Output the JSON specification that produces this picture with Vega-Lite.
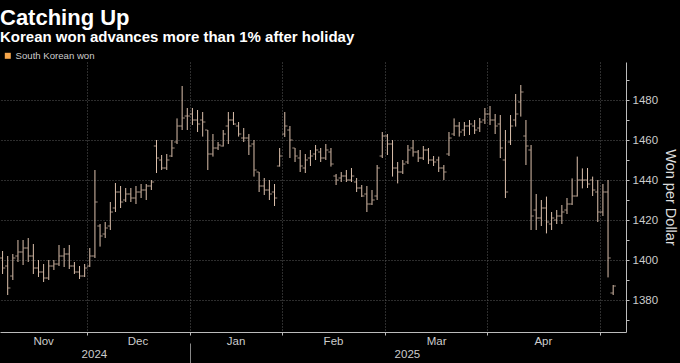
{
  "$schema": "https://vega.github.io/schema/vega-lite/v6.json",
  "autosize": {"type": "none"},
  "padding": {"left": 0, "top": 62, "right": 54, "bottom": 31},
  "width": 626,
  "height": 270,
  "background": "#000000",
  "config": {"view": {"stroke": null}, "font": "Liberation Sans"},
  "title": {
    "text": "Catching Up",
    "subtitle": "Korean won advances more than 1% after holiday",
    "anchor": "start",
    "frame": "group",
    "font": "Liberation Sans",
    "fontSize": 22,
    "fontWeight": "bold",
    "color": "#ffffff",
    "subtitleFont": "Liberation Sans",
    "subtitleFontSize": 15,
    "subtitleFontWeight": "bold",
    "subtitleColor": "#ffffff",
    "subtitlePadding": 0,
    "offset": 5
  },
  "data": {"values": [
    {"i":0,"d":"2024-11-07","o":1401,"h":1404.5,"l":1393,"c":1396},
    {"i":1,"d":"2024-11-08","o":1397,"h":1402,"l":1382.5,"c":1386},
    {"i":2,"d":"2024-11-11","o":1392,"h":1403,"l":1390,"c":1401},
    {"i":3,"d":"2024-11-12","o":1402,"h":1410,"l":1399,"c":1404},
    {"i":4,"d":"2024-11-13","o":1404,"h":1410,"l":1397.5,"c":1406},
    {"i":5,"d":"2024-11-14","o":1406,"h":1411,"l":1399,"c":1402},
    {"i":6,"d":"2024-11-15","o":1402,"h":1408,"l":1393,"c":1396},
    {"i":7,"d":"2024-11-18","o":1396,"h":1400,"l":1391.5,"c":1394},
    {"i":8,"d":"2024-11-19","o":1394,"h":1398,"l":1389,"c":1391},
    {"i":9,"d":"2024-11-20","o":1391,"h":1400,"l":1390,"c":1397},
    {"i":10,"d":"2024-11-21","o":1397,"h":1400,"l":1395,"c":1398},
    {"i":11,"d":"2024-11-22","o":1398,"h":1407.5,"l":1397,"c":1402},
    {"i":12,"d":"2024-11-25","o":1402,"h":1406,"l":1396.5,"c":1403},
    {"i":13,"d":"2024-11-26","o":1403,"h":1407.5,"l":1395.5,"c":1397},
    {"i":14,"d":"2024-11-27","o":1397,"h":1399,"l":1393,"c":1394},
    {"i":15,"d":"2024-11-28","o":1394,"h":1397,"l":1390.5,"c":1392},
    {"i":16,"d":"2024-11-29","o":1392,"h":1398,"l":1391.5,"c":1396},
    {"i":17,"d":"2024-12-02","o":1397,"h":1406,"l":1396.5,"c":1402},
    {"i":18,"d":"2024-12-03","o":1402,"h":1445,"l":1401,"c":1429},
    {"i":19,"d":"2024-12-04","o":1417,"h":1418,"l":1406.7,"c":1412},
    {"i":20,"d":"2024-12-05","o":1413,"h":1419,"l":1411,"c":1416},
    {"i":21,"d":"2024-12-06","o":1417,"h":1429,"l":1415,"c":1424},
    {"i":22,"d":"2024-12-09","o":1426,"h":1438.5,"l":1424,"c":1434},
    {"i":23,"d":"2024-12-10","o":1434,"h":1437,"l":1426,"c":1429},
    {"i":24,"d":"2024-12-11","o":1430,"h":1436,"l":1429,"c":1433},
    {"i":25,"d":"2024-12-12","o":1433,"h":1436,"l":1429,"c":1431},
    {"i":26,"d":"2024-12-13","o":1431,"h":1437,"l":1428,"c":1434},
    {"i":27,"d":"2024-12-16","o":1434,"h":1438,"l":1431,"c":1435},
    {"i":28,"d":"2024-12-17","o":1435,"h":1438,"l":1430,"c":1437},
    {"i":29,"d":"2024-12-18","o":1437,"h":1440,"l":1435,"c":1439},
    {"i":30,"d":"2024-12-19","o":1457,"h":1460,"l":1443.5,"c":1451},
    {"i":31,"d":"2024-12-20","o":1450,"h":1452.5,"l":1445,"c":1446},
    {"i":32,"d":"2024-12-23","o":1446,"h":1453,"l":1445,"c":1450},
    {"i":33,"d":"2024-12-24","o":1452,"h":1460,"l":1451.5,"c":1456},
    {"i":34,"d":"2024-12-26","o":1459,"h":1470.8,"l":1458,"c":1467},
    {"i":35,"d":"2024-12-27","o":1467,"h":1487,"l":1465,"c":1471},
    {"i":36,"d":"2024-12-30","o":1472,"h":1476,"l":1465,"c":1472},
    {"i":37,"d":"2025-01-02","o":1473,"h":1476,"l":1467.5,"c":1470},
    {"i":38,"d":"2025-01-03","o":1470,"h":1475,"l":1464,"c":1468},
    {"i":39,"d":"2025-01-06","o":1470,"h":1474,"l":1461.7,"c":1469},
    {"i":40,"d":"2025-01-07","o":1465,"h":1465,"l":1445,"c":1453},
    {"i":41,"d":"2025-01-08","o":1453,"h":1463,"l":1451.7,"c":1456},
    {"i":42,"d":"2025-01-09","o":1456,"h":1459,"l":1455,"c":1457.5},
    {"i":43,"d":"2025-01-10","o":1457,"h":1465,"l":1456.7,"c":1463},
    {"i":44,"d":"2025-01-13","o":1467,"h":1474,"l":1458,"c":1470},
    {"i":45,"d":"2025-01-14","o":1470,"h":1474,"l":1467.5,"c":1468},
    {"i":46,"d":"2025-01-15","o":1467,"h":1469,"l":1461.7,"c":1463},
    {"i":47,"d":"2025-01-16","o":1461,"h":1466,"l":1459,"c":1461},
    {"i":48,"d":"2025-01-17","o":1461,"h":1463,"l":1452.5,"c":1457},
    {"i":49,"d":"2025-01-20","o":1458,"h":1460,"l":1441.7,"c":1445},
    {"i":50,"d":"2025-01-21","o":1444,"h":1444,"l":1434,"c":1437},
    {"i":51,"d":"2025-01-22","o":1437,"h":1441,"l":1432.5,"c":1435},
    {"i":52,"d":"2025-01-23","o":1435,"h":1440,"l":1430,"c":1433},
    {"i":53,"d":"2025-01-24","o":1434,"h":1438,"l":1427,"c":1431},
    {"i":54,"d":"2025-01-31","o":1447,"h":1456,"l":1446.7,"c":1452},
    {"i":55,"d":"2025-02-03","o":1463,"h":1474,"l":1461.5,"c":1467},
    {"i":56,"d":"2025-02-04","o":1465,"h":1467,"l":1451,"c":1460},
    {"i":57,"d":"2025-02-05","o":1456,"h":1456,"l":1449,"c":1452},
    {"i":58,"d":"2025-02-06","o":1451,"h":1455,"l":1444,"c":1447},
    {"i":59,"d":"2025-02-07","o":1446,"h":1453,"l":1443.5,"c":1450},
    {"i":60,"d":"2025-02-10","o":1451,"h":1455,"l":1447,"c":1452},
    {"i":61,"d":"2025-02-11","o":1453,"h":1457.5,"l":1450,"c":1455},
    {"i":62,"d":"2025-02-12","o":1454,"h":1456,"l":1449,"c":1451},
    {"i":63,"d":"2025-02-13","o":1451,"h":1458,"l":1450,"c":1455},
    {"i":64,"d":"2025-02-14","o":1454,"h":1456,"l":1446.7,"c":1448},
    {"i":65,"d":"2025-02-17","o":1442,"h":1443,"l":1437.5,"c":1440},
    {"i":66,"d":"2025-02-18","o":1441,"h":1444,"l":1439,"c":1442},
    {"i":67,"d":"2025-02-19","o":1442,"h":1445,"l":1439,"c":1440},
    {"i":68,"d":"2025-02-20","o":1440,"h":1446,"l":1439,"c":1442},
    {"i":69,"d":"2025-02-21","o":1439,"h":1441,"l":1434,"c":1436},
    {"i":70,"d":"2025-02-24","o":1436,"h":1437.5,"l":1431.5,"c":1432},
    {"i":71,"d":"2025-02-25","o":1433,"h":1437,"l":1424,"c":1428},
    {"i":72,"d":"2025-02-26","o":1428,"h":1435,"l":1427.5,"c":1430},
    {"i":73,"d":"2025-02-27","o":1432,"h":1447.5,"l":1430,"c":1446},
    {"i":74,"d":"2025-02-28","o":1452,"h":1464,"l":1451,"c":1462},
    {"i":75,"d":"2025-03-04","o":1462,"h":1463,"l":1452.5,"c":1458},
    {"i":76,"d":"2025-03-05","o":1458,"h":1460,"l":1441.7,"c":1446},
    {"i":77,"d":"2025-03-06","o":1446,"h":1449,"l":1438.3,"c":1444},
    {"i":78,"d":"2025-03-07","o":1444,"h":1450,"l":1443,"c":1448},
    {"i":79,"d":"2025-03-10","o":1449,"h":1457.5,"l":1448,"c":1455},
    {"i":80,"d":"2025-03-11","o":1456,"h":1460,"l":1451.7,"c":1454},
    {"i":81,"d":"2025-03-12","o":1454,"h":1455,"l":1449,"c":1451},
    {"i":82,"d":"2025-03-13","o":1451,"h":1457,"l":1450,"c":1455},
    {"i":83,"d":"2025-03-14","o":1455,"h":1456,"l":1448,"c":1450},
    {"i":84,"d":"2025-03-17","o":1450,"h":1452,"l":1447,"c":1449},
    {"i":85,"d":"2025-03-18","o":1450,"h":1451.7,"l":1444,"c":1446},
    {"i":86,"d":"2025-03-19","o":1446,"h":1447.5,"l":1440,"c":1444},
    {"i":87,"d":"2025-03-20","o":1453,"h":1464,"l":1452,"c":1461},
    {"i":88,"d":"2025-03-21","o":1463,"h":1470.8,"l":1462,"c":1467},
    {"i":89,"d":"2025-03-24","o":1467,"h":1469,"l":1461.7,"c":1464},
    {"i":90,"d":"2025-03-25","o":1465,"h":1469,"l":1462,"c":1467},
    {"i":91,"d":"2025-03-26","o":1467,"h":1470,"l":1462.5,"c":1468},
    {"i":92,"d":"2025-03-27","o":1467,"h":1470,"l":1463,"c":1465},
    {"i":93,"d":"2025-03-28","o":1466,"h":1471,"l":1464,"c":1469},
    {"i":94,"d":"2025-03-31","o":1470,"h":1476,"l":1468,"c":1473},
    {"i":95,"d":"2025-04-01","o":1473,"h":1477,"l":1467.5,"c":1470},
    {"i":96,"d":"2025-04-02","o":1470,"h":1473,"l":1463,"c":1467},
    {"i":97,"d":"2025-04-03","o":1468,"h":1472.5,"l":1451,"c":1456},
    {"i":98,"d":"2025-04-04","o":1450,"h":1465,"l":1431,"c":1434},
    {"i":99,"d":"2025-04-07","o":1459,"h":1472.5,"l":1457.5,"c":1467},
    {"i":100,"d":"2025-04-08","o":1470,"h":1483,"l":1466.7,"c":1473},
    {"i":101,"d":"2025-04-09","o":1479,"h":1487.5,"l":1471.7,"c":1484},
    {"i":102,"d":"2025-04-10","o":1462,"h":1470,"l":1447.5,"c":1457},
    {"i":103,"d":"2025-04-11","o":1455,"h":1457.5,"l":1415,"c":1422},
    {"i":104,"d":"2025-04-14","o":1425,"h":1433,"l":1415,"c":1421},
    {"i":105,"d":"2025-04-15","o":1421,"h":1430,"l":1417,"c":1426},
    {"i":106,"d":"2025-04-16","o":1426,"h":1431.7,"l":1413.3,"c":1419},
    {"i":107,"d":"2025-04-17","o":1418,"h":1424,"l":1415,"c":1421},
    {"i":108,"d":"2025-04-18","o":1420,"h":1425,"l":1418,"c":1422},
    {"i":109,"d":"2025-04-21","o":1422,"h":1427.5,"l":1418,"c":1424},
    {"i":110,"d":"2025-04-22","o":1425,"h":1431,"l":1423,"c":1428},
    {"i":111,"d":"2025-04-23","o":1428,"h":1440.8,"l":1427.5,"c":1432},
    {"i":112,"d":"2025-04-24","o":1432,"h":1451.7,"l":1431.7,"c":1440},
    {"i":113,"d":"2025-04-25","o":1440,"h":1445.8,"l":1435.8,"c":1440},
    {"i":114,"d":"2025-04-28","o":1440,"h":1446,"l":1436,"c":1438},
    {"i":115,"d":"2025-04-29","o":1440,"h":1441.7,"l":1432,"c":1435},
    {"i":116,"d":"2025-04-30","o":1434,"h":1440,"l":1419,"c":1424},
    {"i":117,"d":"2025-05-01","o":1424,"h":1438,"l":1422,"c":1434},
    {"i":118,"d":"2025-05-02","o":1434,"h":1440,"l":1391.3,"c":1401},
    {"i":119,"d":"2025-05-07","o":1383.5,"h":1387.5,"l":1382.5,"c":1387}
  ]},
  "layer": [
    {
      "mark": {"type": "rule", "strokeWidth": 1},
      "encoding": {
        "x": {"field": "i", "type": "quantitative",
          "scale": {"domain": [-0.5, 121.5], "nice": false, "zero": false},
          "axis": {"orient": "bottom", "title": null, "values": [16.5, 36.5, 54.5, 74.5, 94.5, 116.5],
            "labels": false, "tickSize": 3, "tickColor": "#bbbbbb", "domainColor": "#bbbbbb",
            "grid": true, "gridDash": [1, 2], "gridColor": "#5a5a5a"}},
        "y": {"field": "l", "type": "quantitative",
          "scale": {"domain": [1364, 1499], "nice": false, "zero": false},
          "axis": {"orient": "right", "title": "Won per Dollar",
            "values": [1370, 1380, 1390, 1400, 1410, 1420, 1430, 1440, 1450, 1460, 1470, 1480, 1490],
            "labelExpr": "datum.value % 20 == 0 ? format(datum.value, 'd') : ''",
            "labelOverlap": false, "grid": true, "gridDash": [1, 2], "gridColor": "#5a5a5a",
            "gridOpacity": {"condition": {"test": "datum.value % 20 == 0", "value": 1}, "value": 0},
            "tickSize": 3, "tickColor": "#bbbbbb", "domainColor": "#bbbbbb",
            "labelColor": "#cccccc", "labelFont": "Liberation Sans", "labelFontSize": 11.5, "labelPadding": 3,
            "titleColor": "#dddddd", "titleFont": "Liberation Sans", "titleFontSize": 14.5,
            "titleFontWeight": "normal", "titlePadding": 5}},
        "y2": {"field": "h"},
        "color": {"datum": "South Korean won", "type": "nominal",
          "scale": {"range": ["#dcc0ac"]},
          "legend": {"title": null, "orient": "none", "legendX": 3, "legendY": -11,
            "symbolType": "square", "symbolSize": 36, "labelColor": "#cccccc",
            "labelFont": "Liberation Sans", "labelFontSize": 9.6, "labelOffset": 3, "padding": 0,
            "encode": {"symbols": {"update": {"fill": {"value": "#f5a64c"}, "stroke": {"value": "#f5a64c"},
              "strokeWidth": {"value": 0}, "opacity": {"value": 1}, "shape": {"value": "square"}, "size": {"value": 36}}}}}}
      }
    },
    {
      "mark": {"type": "tick", "orient": "horizontal", "size": 2.5, "thickness": 1, "xOffset": -1.5, "color": "#dcc0ac"},
      "encoding": {
        "x": {"field": "i", "type": "quantitative",
          "scale": {"domain": [-0.5, 121.5], "nice": false, "zero": false},
          "axis": {"orient": "bottom", "title": null, "values": [7.9, 26.3, 45.4, 64.4, 84.5, 105.3],
            "labelExpr": "datum.value < 10 ? 'Nov' : datum.value < 30 ? 'Dec' : datum.value < 50 ? 'Jan' : datum.value < 70 ? 'Feb' : datum.value < 90 ? 'Mar' : 'Apr'",
            "ticks": false, "domain": false, "grid": false, "labelPadding": 3, "labelOverlap": false,
            "labelColor": "#cccccc", "labelFont": "Liberation Sans", "labelFontSize": 11.5, "labelFlush": false}},
        "y": {"field": "o", "type": "quantitative",
          "scale": {"domain": [1364, 1499], "nice": false, "zero": false},
          "axis": {"orient": "right", "title": "Won per Dollar",
            "values": [1370, 1380, 1390, 1400, 1410, 1420, 1430, 1440, 1450, 1460, 1470, 1480, 1490],
            "labelExpr": "datum.value % 20 == 0 ? format(datum.value, 'd') : ''",
            "labelOverlap": false, "grid": true, "gridDash": [1, 2], "gridColor": "#5a5a5a",
            "gridOpacity": {"condition": {"test": "datum.value % 20 == 0", "value": 1}, "value": 0},
            "tickSize": 3, "tickColor": "#bbbbbb", "domainColor": "#bbbbbb",
            "labelColor": "#cccccc", "labelFont": "Liberation Sans", "labelFontSize": 11.5, "labelPadding": 3,
            "titleColor": "#dddddd", "titleFont": "Liberation Sans", "titleFontSize": 14.5,
            "titleFontWeight": "normal", "titlePadding": 5}}
      }
    },
    {
      "mark": {"type": "tick", "orient": "horizontal", "size": 2.5, "thickness": 1, "xOffset": 1.5, "color": "#dcc0ac"},
      "encoding": {
        "x": {"field": "i", "type": "quantitative",
          "scale": {"domain": [-0.5, 121.5], "nice": false, "zero": false},
          "axis": {"orient": "bottom", "title": null, "values": [17.8, 36.5, 78.8], "offset": 11,
            "labelExpr": "datum.value < 30 ? '2024' : datum.value > 40 ? '2025' : ''",
            "tickSize": 20, "tickColor": "#888888",
            "tickOpacity": {"condition": {"test": "datum.value > 30 && datum.value < 40", "value": 1}, "value": 0},
            "domain": false, "grid": false, "labelPadding": -15, "labelOverlap": false,
            "labelColor": "#cccccc", "labelFont": "Liberation Sans", "labelFontSize": 11.5, "labelFlush": false}},
        "y": {"field": "c", "type": "quantitative",
          "scale": {"domain": [1364, 1499], "nice": false, "zero": false},
          "axis": {"orient": "right", "title": "Won per Dollar",
            "values": [1370, 1380, 1390, 1400, 1410, 1420, 1430, 1440, 1450, 1460, 1470, 1480, 1490],
            "labelExpr": "datum.value % 20 == 0 ? format(datum.value, 'd') : ''",
            "labelOverlap": false, "grid": true, "gridDash": [1, 2], "gridColor": "#5a5a5a",
            "gridOpacity": {"condition": {"test": "datum.value % 20 == 0", "value": 1}, "value": 0},
            "tickSize": 3, "tickColor": "#bbbbbb", "domainColor": "#bbbbbb",
            "labelColor": "#cccccc", "labelFont": "Liberation Sans", "labelFontSize": 11.5, "labelPadding": 3,
            "titleColor": "#dddddd", "titleFont": "Liberation Sans", "titleFontSize": 14.5,
            "titleFontWeight": "normal", "titlePadding": 5}}
      }
    }
  ],
  "resolve": {"axis": {"x": "independent", "y": "shared"}, "scale": {"x": "shared", "y": "shared"}}
}
